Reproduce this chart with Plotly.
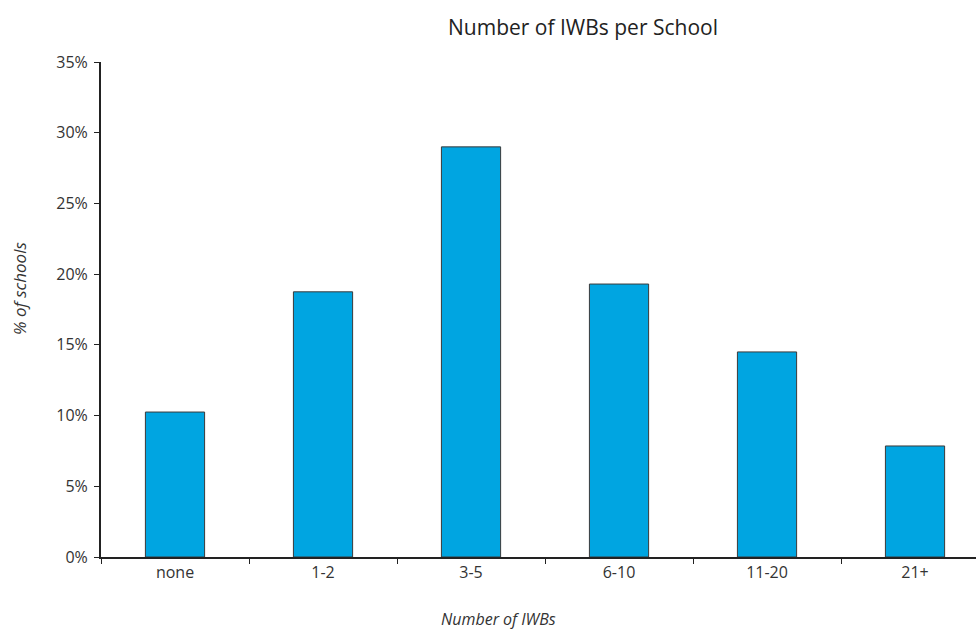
import plotly.graph_objects as go

categories = ["none", "1-2", "3-5", "6-10", "11-20", "21+"]
pct_schools = [10.25, 18.75, 29.0, 19.3, 14.5, 7.85]
y_ticks = [0, 5, 10, 15, 20, 25, 30, 35]
y_tick_labels = [f"{v}%" for v in y_ticks]

font_family = "Open Sans, Noto Sans, sans-serif"
text_color = "#333333"

W, H = 976, 634
M_L, M_R, M_T, M_B = 101, 0, 62, 77
plot_w = W - M_L - M_R
plot_h = H - M_T - M_B


def px_x(x):
    return (x - M_L) / plot_w


def px_y(y):
    return (H - M_B - y) / plot_h


fig = go.Figure(
    go.Bar(
        x=categories,
        y=pct_schools,
        width=0.40,
        marker=dict(color="#00A5E1", line=dict(color="#3a3a3a", width=1)),
        hoverinfo="x+y",
    )
)

fig.update_layout(
    width=W,
    height=H,
    margin=dict(l=M_L, r=M_R, t=M_T, b=M_B),
    paper_bgcolor="white",
    plot_bgcolor="white",
    showlegend=False,
    font=dict(family=font_family, size=16, color=text_color),
)

fig.add_annotation(
    text="Number of IWBs per School",
    x=px_x(583), y=px_y(27),
    xref="paper", yref="paper", showarrow=False,
    xanchor="center", yanchor="middle",
    font=dict(size=21, color="#222222"),
)
fig.add_annotation(
    text="<i>Number of IWBs</i>",
    x=px_x(498), y=px_y(619),
    xref="paper", yref="paper", showarrow=False,
    xanchor="center", yanchor="middle",
    font=dict(size=16, color=text_color),
)
fig.add_annotation(
    text="<i>% of schools</i>",
    x=px_x(19), y=px_y(289),
    xref="paper", yref="paper", showarrow=False,
    textangle=-90, xanchor="center", yanchor="middle",
    font=dict(size=17, color=text_color),
)

# category slots are slightly wider than the visible plot, so the last one is clipped
fig.update_xaxes(
    range=[-0.5, 5.412],
    showline=True, linecolor="#222222", linewidth=2,
    ticks="outside", tickson="boundaries", ticklen=5, tickcolor="#222222",
    tickfont=dict(size=16, color=text_color),
    showgrid=False, zeroline=False,
)
fig.update_yaxes(
    range=[0, 35],
    tickvals=y_ticks, ticktext=y_tick_labels,
    showline=True, linecolor="#222222", linewidth=2,
    ticks="outside", ticklen=5, tickcolor="#222222",
    ticklabelstandoff=3,
    tickfont=dict(size=16, color=text_color),
    showgrid=False, zeroline=False,
)

fig.write_html("out.html")
